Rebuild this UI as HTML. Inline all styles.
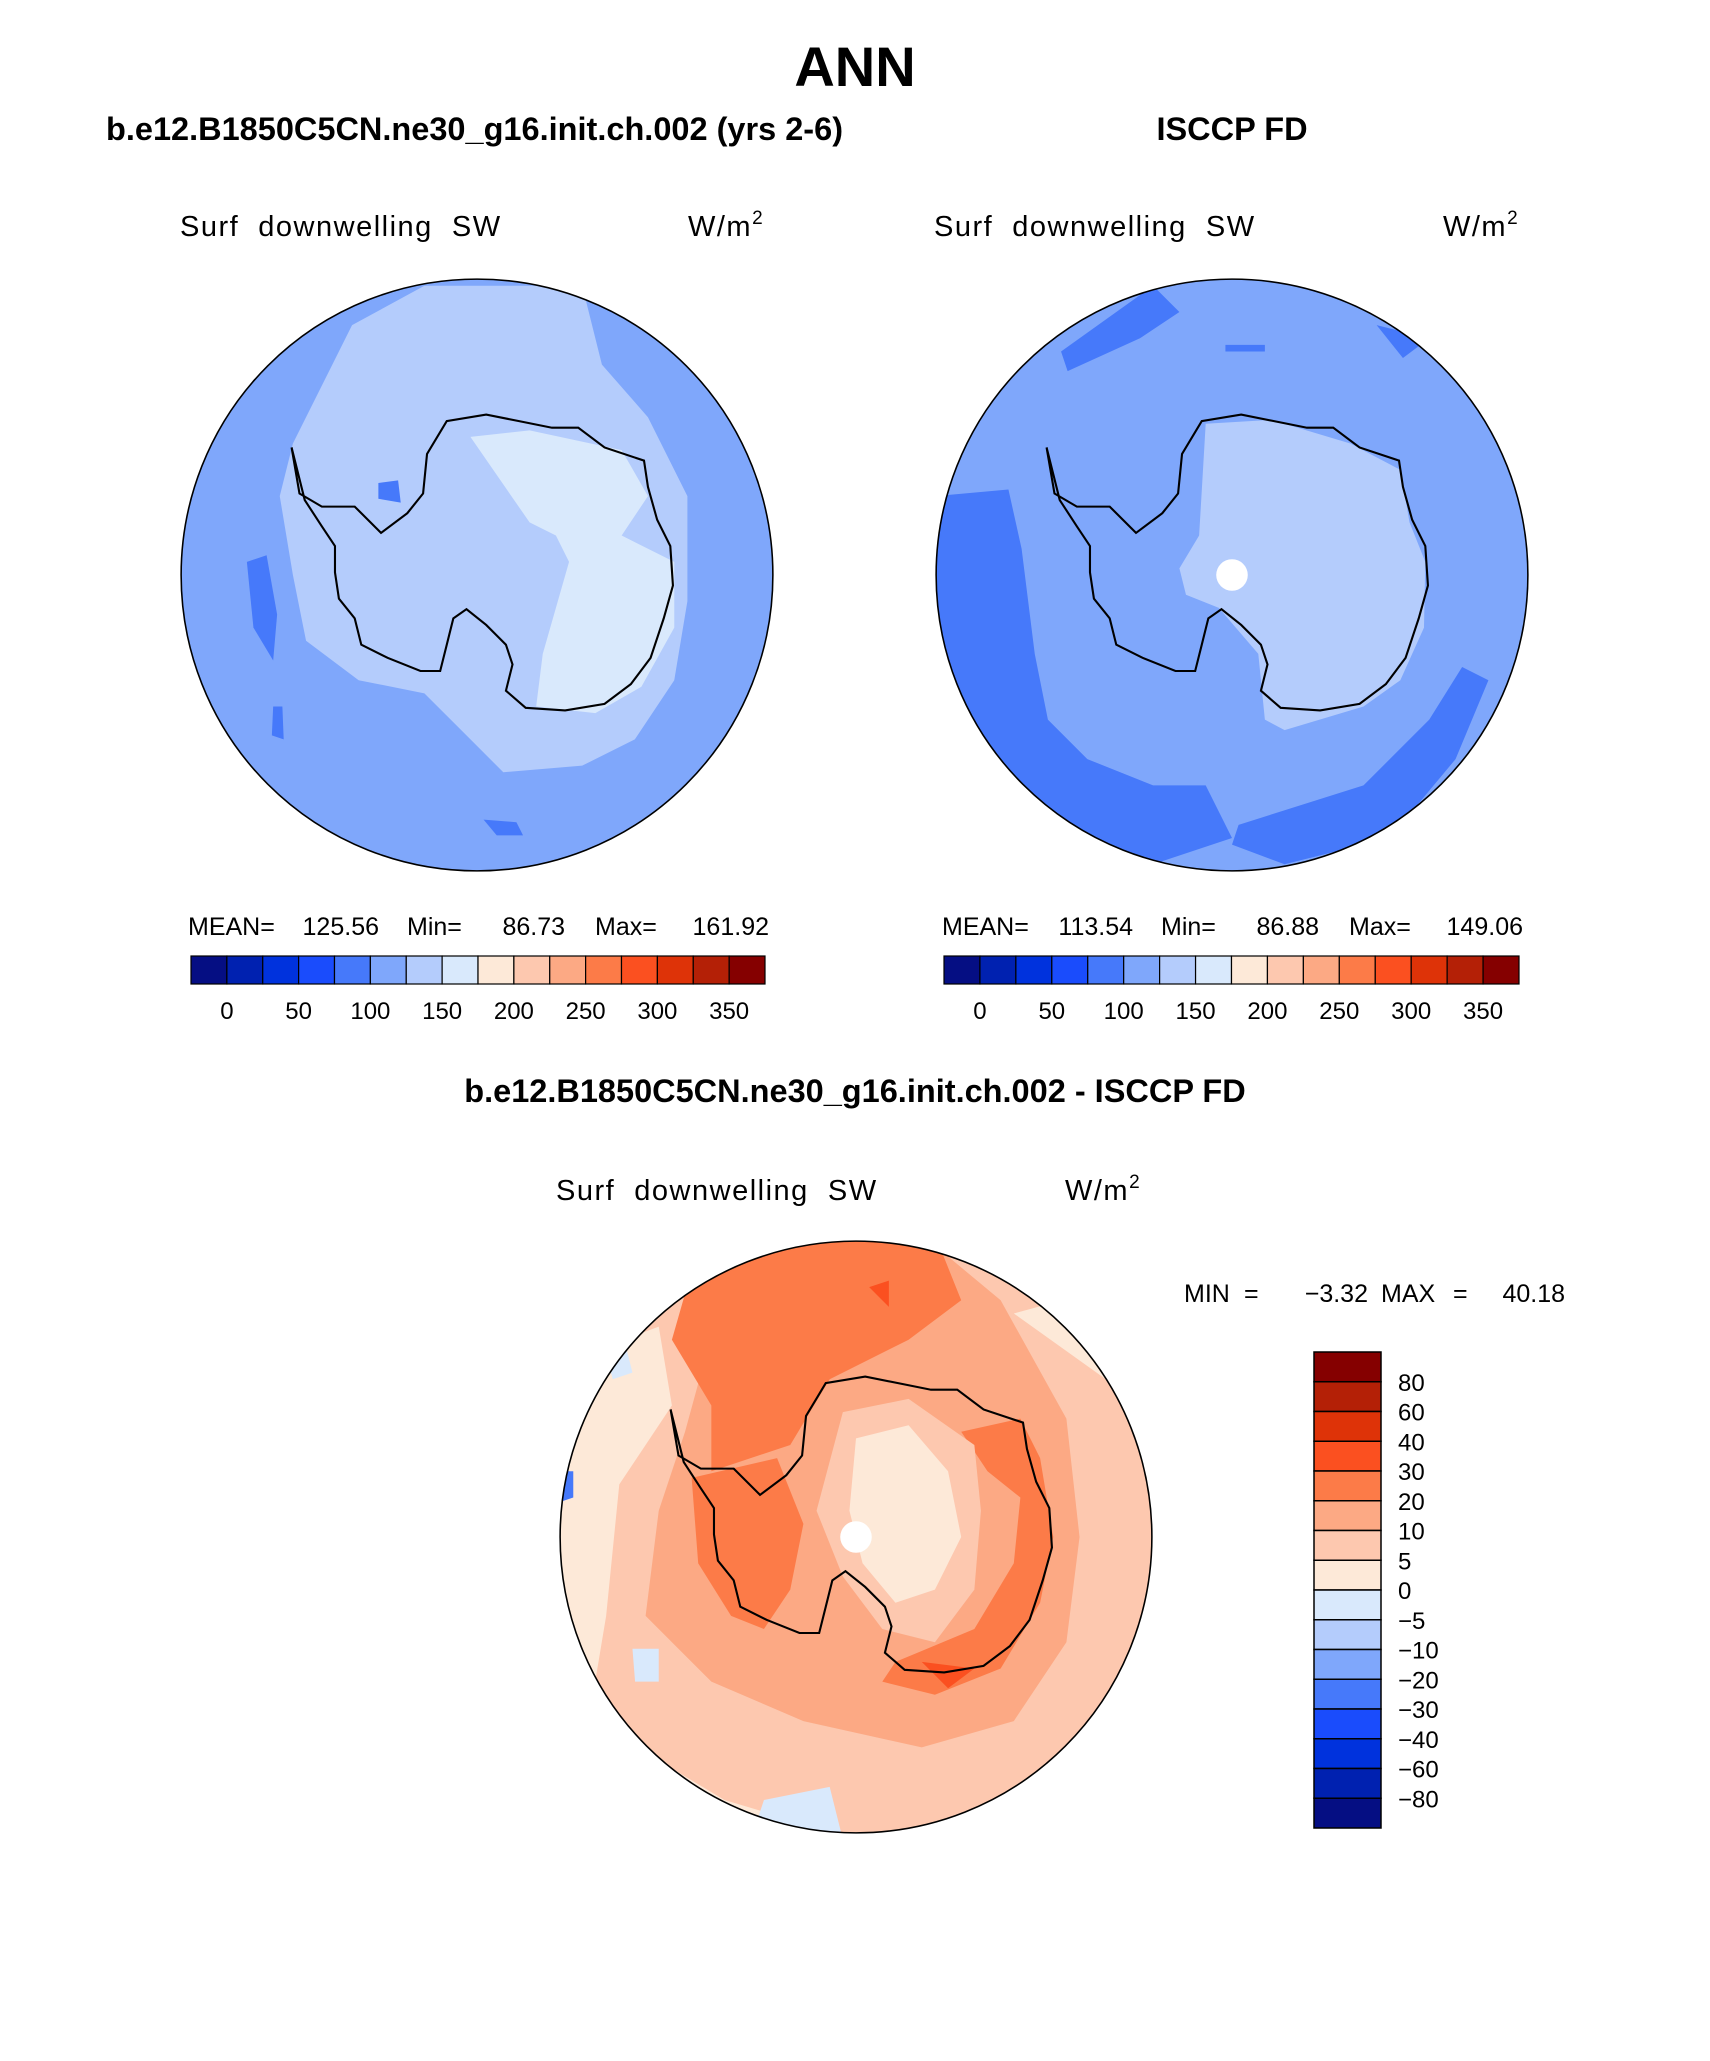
<!DOCTYPE html>
<html><head><meta charset="utf-8">
<style>
html,body{margin:0;padding:0;background:#fff;}
body{width:1710px;height:2061px;position:relative;overflow:hidden;font-family:"Liberation Sans",sans-serif;}
.t{position:absolute;white-space:nowrap;color:#000;}
svg{position:absolute;left:0;top:0;}
svg text{white-space:pre;}
</style></head><body>
<div class="t" style="left:0;width:1710px;text-align:center;top:34px;font-size:56px;font-weight:bold;">ANN</div>
<div class="t" style="left:106px;top:111px;font-size:32.5px;font-weight:bold;">b.e12.B1850C5CN.ne30_g16.init.ch.002 (yrs 2-6)</div>
<div class="t" style="left:1082px;width:300px;text-align:center;top:111px;font-size:32.5px;font-weight:bold;">ISCCP FD</div>
<div class="t" style="left:0;width:1710px;text-align:center;top:1073px;font-size:32.5px;font-weight:bold;">b.e12.B1850C5CN.ne30_g16.init.ch.002 - ISCCP FD</div>
<svg id="fig" width="1710" height="2061" viewBox="0 0 1710 2061" font-family="'Liberation Sans',sans-serif"></svg>
<script>
const levelLabels=['0','50','100','150','200','250','300','350'];
const diffLabels=['80','60','40','30','20','10','5','0','\u22125','\u221210','\u221220','\u221230','\u221240','\u221260','\u221280'];
const colors=['#050e83','#0021b0','#0032dd','#1a4cfc','#4679fa','#7fa7fb','#b4ccfc','#d9e9fc','#fde9d8','#fdc8af','#fca984','#fc7b48','#fb5020','#de3308','#b42006','#850000'];
const statsLeft=['125.56','86.73','161.92'];
const statsRight=['113.54','86.88','149.06'];
const diffStats=['\u22123.32','40.18'];
const NS='http://www.w3.org/2000/svg';
const fig=document.getElementById('fig');
function el(tag,attrs,parent){const e=document.createElementNS(NS,tag);for(const k in attrs)e.setAttribute(k,attrs[k]);(parent||fig).appendChild(e);return e;}
function txt(x,y,s,size,anchor,name,parent){const t=el('text',{x:x,y:y,'font-size':size,'text-anchor':anchor||'start'},parent);t.textContent=s;return t;}
const ant=[[-141,-97],[-135,-62],[-118,-52],[-93,-52],[-73,-32],[-53,-47],[-41,-62],[-38,-92],[-23,-117],[7,-122],[32,-117],[57,-112],[77,-112],[97,-97],[127,-87],[130,-67],[137,-42],[147,-22],[149,8],[142,33],[132,63],[117,83],[97,98],[67,103],[37,101],[22,88],[27,68],[22,53],[7,38],[-8,26],[-18,33],[-23,53],[-28,73],[-43,73],[-68,63],[-88,53],[-93,33],[-105,18],[-108,-2],[-108,-22],[-118,-37],[-131,-57]];
function poly(p){return 'M'+p.map(q=>q.join(',')).join('L')+'Z';}
function map(cx,cy,id,bg,blobs,hole){
  const g=el('g',{transform:`translate(${cx},${cy}) scale(1.315)`});
  
  
  const cp=el('clipPath',{id:'c'+id},g);el('circle',{cx:0,cy:0,r:225},cp);
  const inner=el('g',{'clip-path':`url(#c${id})`},g);
  el('rect',{x:-230,y:-230,width:460,height:460,fill:bg},inner);
  blobs.forEach(b=>{const p=el('path',{d:poly(b[1]),fill:b[0]},inner);});
  if(hole)el('circle',{cx:hole[0],cy:hole[1],r:12,fill:'#fff'},inner);
  const a=el('path',{d:poly(ant),fill:'none',stroke:'#000','stroke-width':1.6},g);
  
  el('circle',{cx:0,cy:0,r:225,fill:'none',stroke:'#000','stroke-width':1.2},g);
}
map(477,575,'model-map','#7fa7fb',[
 ['#b4ccfc',[[-95,-190],[-40,-220],[80,-220],[95,-160],[130,-120],[160,-60],[160,20],[150,80],[120,125],[80,145],[20,150],[-10,120],[-40,90],[-90,80],[-130,50],[-140,0],[-150,-60],[-140,-100]]],
 ['#d9e9fc',[[-5,-105],[40,-110],[110,-95],[130,-60],[110,-30],[150,-10],[150,40],[125,85],[90,105],[45,100],[50,60],[70,-10],[60,-30],[40,-40]]],
 ['#4679fa',[[-175,-10],[-160,-15],[-152,30],[-155,65],[-170,40]]],
 ['#4679fa',[[-155,100],[-148,100],[-147,125],[-156,122]]],
 ['#4679fa',[[5,186],[30,188],[35,198],[15,198]]],
 ['#4679fa',[[-75,-70],[-60,-72],[-58,-55],[-75,-58]]]
]);
map(1232,575,'obs-map','#7fa7fb',[
 ['#4679fa',[[-225,-60],[-170,-65],[-160,-20],[-150,60],[-140,110],[-110,140],[-60,160],[-20,160],[0,200],[-60,220],[-140,200],[-210,120],[-230,0]]],
 ['#4679fa',[[5,190],[100,160],[150,110],[175,70],[195,80],[170,140],[120,200],[40,220],[0,205]]],
 ['#4679fa',[[-130,-170],[-60,-220],[-40,-200],[-70,-180],[-125,-155]]],
 ['#4679fa',[[110,-190],[150,-180],[130,-165]]],
 ['#4679fa',[[-5,-175],[25,-175],[25,-170],[-5,-170]]],
 ['#b4ccfc',[[-20,-115],[30,-118],[90,-100],[128,-80],[135,-40],[147,-10],[146,40],[128,80],[100,100],[40,118],[25,110],[20,60],[-10,25],[-35,15],[-40,-5],[-25,-30]]]
],[0,0]);
map(856,1537,'diff-map','#fdc8af',[
 ['#fde9d8',[[-230,-130],[-150,-160],[-140,-100],[-180,-40],[-190,60],[-200,120],[-150,170],[-100,200],[0,230],[-230,230]]],
 ['#fde9d8',[[120,-170],[190,-120],[230,-60],[230,-200]]],
 ['#fca984',[[-100,-190],[50,-230],[110,-180],[160,-90],[170,0],[160,80],[120,140],[50,160],[-40,140],[-110,110],[-160,60],[-150,-20],[-130,-80]]],
 ['#fc7b48',[[-120,-220],[60,-230],[80,-180],[40,-150],[-20,-120],[-50,-70],[-110,-50],[-110,-100],[-140,-150]]],
 ['#fc7b48',[[-125,-45],[-60,-60],[-40,-10],[-50,40],[-70,70],[-95,60],[-120,20]]],
 ['#fc7b48',[[80,-80],[125,-90],[140,-60],[150,0],[140,50],[110,100],[60,120],[20,110],[30,95],[90,70],[120,20],[125,-30],[100,-50]]],
 ['#fb5020',[[10,-190],[25,-195],[25,-175]]],
 ['#fb5020',[[50,95],[90,100],[70,115]]],
 ['#fdc8af',[[-10,-95],[40,-105],[90,-70],[95,-20],[90,40],[60,80],[20,70],[-10,30],[-30,-20]]],
 ['#fde9d8',[[0,-75],[40,-85],[70,-50],[80,0],[60,40],[30,50],[5,20],[-5,-20]]],
 ['#d9e9fc',[[-70,200],[-20,190],[-10,230],[-80,230]]],
 ['#d9e9fc',[[-190,-140],[-175,-145],[-170,-125],[-185,-120]]],
 ['#d9e9fc',[[-170,85],[-150,85],[-150,110],[-168,110]]],
 ['#4679fa',[[-230,-50],[-215,-50],[-215,-30],[-230,-25]]]
],[0,0]);
[[180,688,'left'],[934,1443,'right'],[556,1065,'diff']].forEach((p,i)=>{
  const y=i<2?236:1200;
  const v=txt(p[0],y,'Surf  downwelling  SW',29,'start',p[2]+'-variable-label');
  v.setAttribute('letter-spacing','1.5');
  const u=txt(p[1],y,'W/m',29,'start',p[2]+'-units-label');
  u.setAttribute('letter-spacing','1.5');
  const s=el('tspan',{dy:-12,'font-size':19},u);s.textContent='2';
});
function stats(off,st,name){
  txt(188+off,935,'MEAN=',25,'start',name+'-mean-label');
  txt(379+off,935,st[0],25,'end',name+'-mean');
  txt(407+off,935,'Min=',25,'start',name+'-min-label');
  txt(565+off,935,st[1],25,'end',name+'-min');
  txt(595+off,935,'Max=',25,'start',name+'-max-label');
  txt(769+off,935,st[2],25,'end',name+'-max');
}
stats(0,statsLeft,'left-stats');
stats(754,statsRight,'right-stats');
function hbar(x0,x1,y0,h,name){
  const w=(x1-x0)/colors.length;
  colors.forEach((c,i)=>{const r=el('rect',{x:x0+i*w,y:y0,width:w,height:h,fill:c,stroke:'#000','stroke-width':1.2});});
  levelLabels.forEach((l,i)=>txt(x0+(2*i+1)*w,y0+h+35,l,24,'middle',name+'-tick-label'));
}
hbar(191,765,956,28,'left-colorbar');
hbar(944,1519,956,28,'right-colorbar');
txt(1184,1302,'MIN',25,'start','diff-min-label');
txt(1244,1302,'=',25,'start','diff-min-eq');
txt(1368,1302,diffStats[0],25,'end','diff-min');
txt(1381,1302,'MAX',25,'start','diff-max-label');
txt(1453,1302,'=',25,'start','diff-max-eq');
txt(1565,1302,diffStats[1],25,'end','diff-max');
const vb={x:1314,y:1352,w:67,h:476};
const bh=vb.h/colors.length;
colors.slice().reverse().forEach((c,i)=>{const r=el('rect',{x:vb.x,y:vb.y+i*bh,width:vb.w,height:bh,fill:c,stroke:'#000','stroke-width':1.5});});
diffLabels.forEach((l,i)=>txt(1398,vb.y+(i+1)*bh+9,l,24,'start','diff-colorbar-tick-label'));
</script>
</body></html>
